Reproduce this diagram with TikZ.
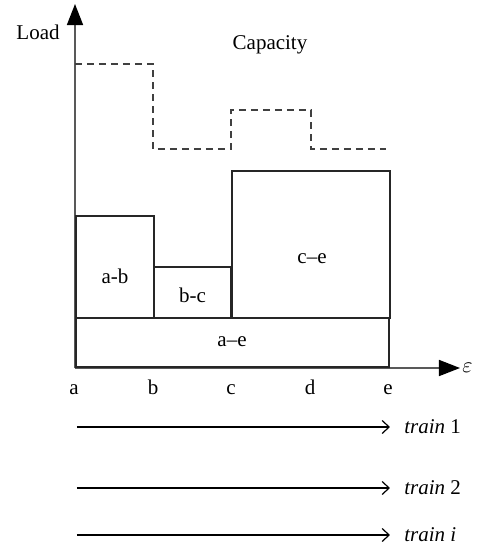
\documentclass[tikz,border=0pt]{standalone}
\usepackage{fontspec}
\setmainfont{Liberation Serif}
\usepackage{tikz}
\usetikzlibrary{arrows.meta,positioning}

\tikzset{
  axis/.style={draw=black!65,line width=0.8pt,-{Triangle[length=10.5pt,width=8pt,fill=black,color=black]}},
  capline/.style={draw=black!75,line width=0.6pt,dash pattern=on 3.5pt off 2.5pt},
  seg/.style={draw=black!85,line width=0.6pt},
  runarrow/.style={draw=black,line width=0.6pt,shorten >=7pt,-{Straight Barb[length=3.5pt,width=6.5pt]}},
}

\begin{document}
\begin{tikzpicture}[x=0.5pt,y=-0.5pt,font=\fontsize{10.5}{12}\selectfont]
\useasboundingbox (0,0) rectangle (477,548);

% axes
\coordinate (O) at (75,368);
\coordinate (ytop) at (75,4);
\coordinate (xend) at (460,368);
\draw[axis] (O) -- (ytop);
\draw[axis] (O) -- (xend);
\node (load) at (38,32) {Load};
\node[anchor=west,inner sep=0pt] (eps) at (462,368) {$\varepsilon$};

% capacity profile
\node (capacity) at (270,45) {Capacity};
\draw[capline] (75,64) -- (153,64) -- (153,149) -- (231,149) -- (231,110)
  -- (311,110) -- (311,149) -- (386,149);

% load blocks (labels sit a bit low in the taller ones)
\draw[seg] (76,216) rectangle (154,318);
\node (ab) at (115,276) {a-b};
\draw[seg] (154,267) rectangle (231,318);
\node (bc) at (192.5,295) {b-c};
\draw[seg] (232,171) rectangle (390,318);
\node (ce) at (312,259) {c–e};
\draw[seg] (76,318) rectangle (389,367);
\node (ae) at (232,342) {a–e};

% stations
\foreach \st/\x in {a/74,b/153,c/231,d/310,e/388}
  \node[anchor=base] (st\st) at (\x,394) {\st};

% trains
\foreach \tr/\y/\txt in {1/427/1,2/488/2,i/535/\textit{i}} {
  \coordinate (from\tr) at (77,\y);
  \node[right,inner sep=0pt] (train\tr) at (404,\y) {\textit{train} \txt};
  \draw[runarrow] (from\tr) -- (train\tr.west);
}
\end{tikzpicture}
\end{document}
